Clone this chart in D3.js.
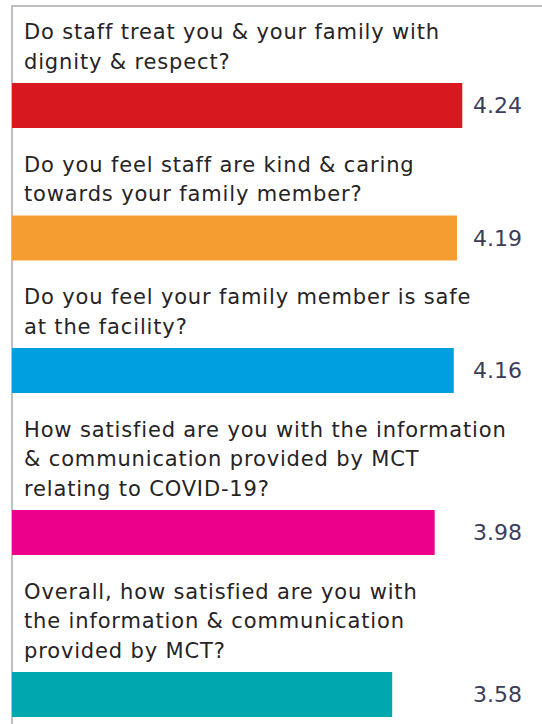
<!DOCTYPE html>
<html>
<head>
<meta charset="utf-8">
<script src="https://cdn.jsdelivr.net/npm/d3@7"></script>
<style>
  html, body { margin: 0; padding: 0; background: #ffffff; }
  svg { display: block; }
</style>
</head>
<body>
<svg id="chart" width="542" height="724"></svg>
<script>
// ---- data ----
const questionLines = [
  ["Do staff treat you & your family with", "dignity & respect?"],
  ["Do you feel staff are kind & caring", "towards your family member?"],
  ["Do you feel your family member is safe", "at the facility?"],
  ["How satisfied are you with the information", "& communication provided by MCT", "relating to COVID-19?"],
  ["Overall, how satisfied are you with", "the information & communication", "provided by MCT?"]
];
const scores = [4.24, 4.19, 4.16, 3.98, 3.58];
const scoreLabels = ["4.24", "4.19", "4.16", "3.98", "3.58"];
const barColors = ["#d7191f", "#f59d31", "#009fdf", "#ec008b", "#00a7ad"];

// ---- layout ----
const W = 542, H = 724;
const frameLeft = 12, frameTop = 6;
const firstBaseline = 39, lineH = 29.5, barGap = 14.5, barH = 45, groupGap = 43.5;

const svg = d3.select("#chart");

const x = d3.scaleLinear().domain([0, 5]).range([frameLeft, frameLeft + 531]);

let cursor = firstBaseline;
const layout = questionLines.map((lines, i) => {
  const b1 = cursor;
  const barTop = b1 + (lines.length - 1) * lineH + barGap;
  cursor = barTop + barH + groupGap;
  return { lines, value: scores[i], label: scoreLabels[i], color: barColors[i], b1, barTop };
});

// frame
svg.append("path")
  .attr("d", `M${W},${frameTop}H${frameLeft}V${H}`)
  .attr("fill", "none")
  .attr("stroke", "#ababab")
  .attr("stroke-width", 1.5);

const g = svg.selectAll("g.item").data(layout).enter().append("g").attr("class", "item");

g.append("text")
  .attr("font-family", "DejaVu Sans, sans-serif")
  .attr("font-size", 21)
  .attr("letter-spacing", 0.85)
  .attr("fill", "#262324")
  .selectAll("tspan")
  .data(d => d.lines.map((t, k) => ({ t, y: d.b1 + k * lineH })))
  .enter().append("tspan")
  .attr("x", 24)
  .attr("y", d => d.y)
  .text(d => d.t);

g.append("rect")
  .attr("x", x(0))
  .attr("y", d => d.barTop)
  .attr("width", d => x(d.value) - x(0))
  .attr("height", barH)
  .attr("fill", d => d.color);

g.append("text")
  .attr("x", 473)
  .attr("y", d => d.barTop + barH / 2)
  .attr("dy", "0.36em")
  .attr("font-family", "DejaVu Sans, sans-serif")
  .attr("font-size", 22)
  .attr("fill", "#3c3c5c")
  .text(d => d.label);
</script>
</body>
</html>
